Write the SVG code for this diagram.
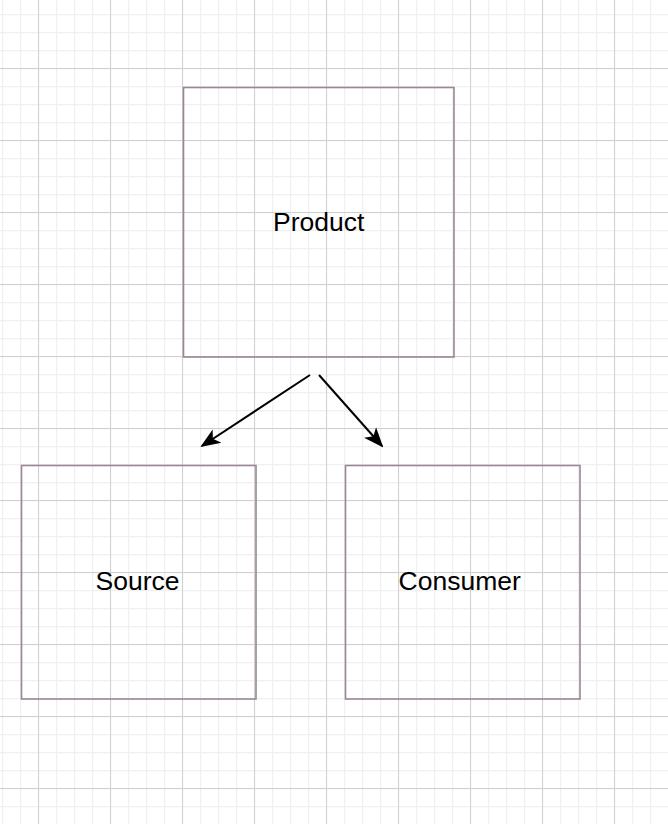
<svg xmlns="http://www.w3.org/2000/svg" width="668" height="824" viewBox="0 0 668 824">
<style>
.box{fill:none;stroke:#9a8698;stroke-width:1.6}
.lbl{font-family:"Liberation Sans",Arial,sans-serif;font-size:26.5px;fill:#000;text-anchor:middle}
.edge{stroke:#000;stroke-width:2;fill:none}
</style>
<defs>
<pattern id="minor" x="2" y="14" width="18" height="18" patternUnits="userSpaceOnUse">
<path d="M0.5 0V18M0 0.5H18" stroke="#f0f0f0" stroke-width="1.5" fill="none"/>
</pattern>
<pattern id="major" x="38" y="68" width="72" height="72" patternUnits="userSpaceOnUse">
<path d="M0.5 0V72M0 0.5H72" stroke="#d0d0d0" stroke-width="1" fill="none"/>
</pattern>
<marker id="arrw" viewBox="0 0 20 20" refX="18" refY="10" markerWidth="20" markerHeight="20" markerUnits="userSpaceOnUse" orient="auto">
<path d="M0 2L20 10L0 18L5 10Z" fill="#000"/>
</marker>
</defs>
<rect width="668" height="824" fill="#fff"/>
<rect width="668" height="824" fill="url(#minor)"/>
<rect width="668" height="824" fill="url(#major)"/>
<g id="connectors">
<line class="edge" x1="310" y1="375" x2="202" y2="446" marker-end="url(#arrw)"/>
<line class="edge" x1="319" y1="375" x2="382" y2="446" marker-end="url(#arrw)"/>
</g>
<g id="product">
<rect class="box" x="183.5" y="87.5" width="270.5" height="269.5"/>
<text class="lbl" x="318.7" y="231">Product</text>
</g>
<g id="source">
<rect class="box" x="21.5" y="465.5" width="234.5" height="233.5"/>
<text class="lbl" x="137.5" y="589.5">Source</text>
</g>
<g id="consumer">
<rect class="box" x="345.5" y="465.5" width="234.5" height="233.5"/>
<text class="lbl" x="459.7" y="589.5">Consumer</text>
</g>
</svg>
